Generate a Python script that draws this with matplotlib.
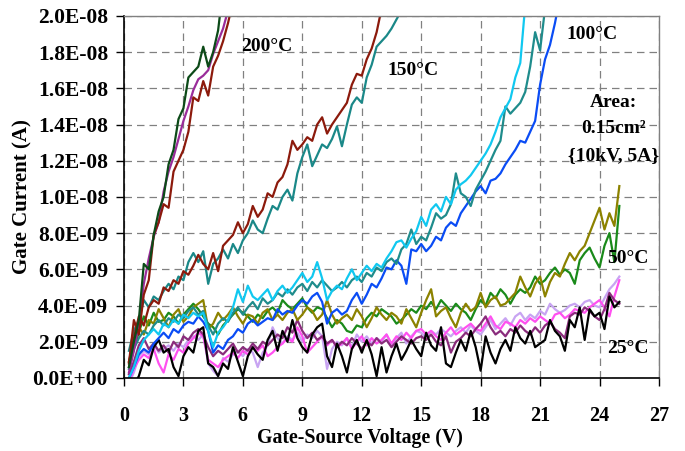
import numpy as np
import matplotlib
matplotlib.use("Agg")
import matplotlib.pyplot as plt
from matplotlib.ticker import FuncFormatter

plt.rcParams['font.family'] = ['Liberation Serif', 'DejaVu Serif']
plt.rcParams['font.weight'] = 'bold'

# gate current readings in nA, sampled every 0.25 V starting at 0.25 V
step = 0.25

# 200 C
g200 = [0.6, 2.0, 3.2, 6.3, 6.0, 7.9, 9.2, 10.0, 11.8, 12.6, 14.3, 14.9, 16.6, 16.9, 17.2,
        18.3, 17.2, 18.0, 19.2, 21.5]
p200 = [0.3, 1.5, 3.0, 5.2, 6.6, 7.8, 8.6, 10.3, 11.4, 12.2, 13.2, 14.2, 15.0, 15.9, 16.5,
        16.7, 17.0, 17.9, 18.6, 19.3, 20.3]
r200 = [0.8, 3.2, 2.4, 4.6, 5.4, 7.9, 8.6, 9.6, 9.4, 11.4, 12.0, 12.6, 13.6, 15.5, 15.3,
        16.4, 15.6, 17.2, 17.8, 18.6, 19.6, 20.8]

# 150 C
r150 = [0.9, 2.2, 3.4, 2.9, 3.9, 4.3, 4.1, 5.0, 4.8, 5.4, 5.2, 5.9, 5.7, 6.2, 6.8, 6.3,
        6.0, 6.9, 5.9, 7.3, 7.6, 7.9, 8.6, 8.0, 8.5, 9.5, 8.9, 9.3, 10.2, 10.0, 10.8, 11.1,
        11.8, 13.1, 12.6, 12.9, 13.3, 13.1, 14.0, 14.4, 13.5, 14.0, 14.4, 14.8, 15.2, 16.2,
        16.8, 16.7, 17.6, 18.2, 19.1, 20.4]
t150 = [1.5, 2.6, 3.2, 4.3, 3.9, 4.5, 4.3, 4.8, 5.2, 4.9, 5.6, 5.4, 6.4, 6.9, 6.4, 7.0,
        5.2, 6.3, 6.6, 7.1, 6.6, 7.4, 6.9, 7.6, 8.0, 8.7, 8.2, 8.0, 8.8, 9.5, 9.3, 10.0,
        10.4, 9.8, 11.3, 12.2, 12.9, 11.7, 12.3, 12.9, 12.7, 13.2, 13.9, 12.8, 14.0, 15.1,
        15.5, 15.2, 16.6, 17.3, 18.3, 18.6, 18.9, 19.3, 19.8, 20.3]

# 100 C
c100 = [0.0, 0.6, 1.5, 2.1, 2.4, 2.7, 2.4, 3.0, 2.8, 3.2, 3.0, 3.5, 3.3, 3.6, 3.4, 3.6,
        2.6, 1.7, 2.5, 2.8, 3.2, 3.9, 4.9, 4.2, 5.1, 4.5, 4.3, 4.6, 4.9, 4.3, 4.8, 5.1,
        4.7, 5.0, 5.4, 5.8, 5.3, 5.6, 6.4, 5.5, 4.3, 4.8, 5.1, 4.9, 5.5, 6.0, 5.4, 5.8,
        6.2, 5.9, 6.3, 6.1, 6.6, 7.0, 7.5, 7.6, 7.2, 7.7, 8.1, 8.9, 8.4, 9.3, 9.6, 9.2,
        10.0, 9.6, 10.4, 10.7, 10.9, 11.2, 11.6, 12.0, 12.4, 12.9, 13.6, 14.4, 14.9, 15.4,
        16.6, 17.4, 20.6]
t100 = [0.5, 1.6, 2.2, 2.6, 2.4, 2.9, 3.2, 2.9, 3.3, 3.1, 3.5, 3.3, 3.7, 3.9, 3.5, 3.7,
        2.9, 2.4, 3.0, 3.3, 3.1, 3.6, 3.9, 3.5, 3.9, 4.2, 3.8, 4.4, 4.1, 4.3, 4.7, 4.5,
        4.9, 4.6, 5.0, 5.2, 4.8, 5.3, 5.0, 5.4, 5.1, 4.8, 5.0, 5.3, 5.0, 5.4, 5.6, 5.3,
        5.8, 5.6, 6.1, 5.9, 6.4, 6.6, 6.3, 7.1, 7.4, 8.2, 7.4, 7.8, 7.6, 8.3, 9.1, 8.8,
        9.0, 9.6, 11.3, 10.2, 10.0, 9.5, 10.4, 10.9, 11.4, 12.0, 12.6, 13.1, 15.0, 14.6,
        14.9, 15.2, 15.8, 17.2, 19.1, 18.1, 20.4]
b100 = [0.0, 0.6, 1.3, 1.6, 1.4, 1.9, 2.2, 2.5, 2.2, 2.7, 2.5, 2.9, 3.1, 3.0, 3.4, 3.1,
        2.6, 1.4, 1.8, 1.6, 2.1, 2.3, 2.7, 2.5, 3.0, 3.2, 2.9, 3.1, 3.3, 3.2, 3.8, 3.5,
        3.7, 3.6, 4.0, 4.3, 4.1, 4.5, 4.7, 4.2, 3.0, 3.6, 3.8, 3.5, 3.7, 4.3, 4.7, 4.1,
        4.6, 5.2, 5.0, 5.5, 6.1, 6.0, 6.5, 6.2, 5.2, 7.1, 7.0, 7.4, 7.0, 7.3, 7.8, 7.6,
        8.3, 8.6, 8.4, 9.1, 9.5, 9.9, 10.3, 10.6, 10.2, 10.9, 11.0, 11.3, 11.8, 12.2, 12.6,
        13.1, 13.0, 13.6, 14.2, 16.2, 17.6, 18.4, 19.6, 21.0]

# 50 C
o50 = [0.9, 1.8, 2.8, 2.4, 3.2, 3.0, 3.8, 3.3, 2.8, 3.5, 3.8, 3.1, 3.4, 3.9, 4.1, 4.3,
       2.7, 3.0, 3.6, 3.2, 3.5, 3.9, 3.4, 3.0, 3.5, 3.4, 3.0, 3.6, 3.8, 3.2, 3.5, 3.2,
       3.6, 3.8, 3.2, 3.5, 3.9, 3.7, 3.2, 3.5, 4.3, 3.5, 3.0, 3.3, 3.5, 3.2, 3.8, 3.4,
       2.8, 3.3, 3.9, 3.5, 3.2, 3.6, 3.4, 3.0, 3.8, 3.3, 2.8, 3.6, 4.3, 4.9, 3.4, 3.7,
       3.9, 3.3, 2.8, 3.6, 4.1, 3.7, 3.9, 4.7, 3.9, 4.3, 4.5, 4.0, 4.1, 4.4, 4.7, 5.6,
       5.0, 4.5, 5.2, 5.6, 4.5, 5.3, 5.8, 5.6, 6.3, 6.9, 6.5, 7.0, 7.3, 8.0, 8.7, 9.4,
       8.2, 9.1, 8.4, 10.6]
gr50 = [0.6, 1.7, 2.5, 3.4, 2.9, 3.6, 3.1, 3.2, 3.6, 3.4, 3.0, 3.5, 3.8, 4.1, 3.8, 3.4,
        3.0, 2.8, 2.4, 2.9, 3.2, 3.5, 3.8, 3.6, 3.4, 3.1, 3.5, 3.3, 3.7, 3.9, 3.6, 4.3,
        4.0, 3.8, 4.1, 4.4, 3.9, 3.6, 3.9, 3.8, 3.3, 2.8, 3.2, 3.0, 2.6, 2.5, 2.9, 2.8,
        3.3, 3.6, 3.4, 3.8, 3.6, 3.4, 3.0, 3.2, 3.5, 3.8, 3.6, 4.0, 3.8, 4.2, 3.8, 4.3,
        4.0, 3.7, 4.1, 3.8, 3.6, 3.2, 3.8, 4.3, 4.0, 4.7, 4.4, 4.9, 4.6, 4.1, 4.6, 4.9,
        4.7, 5.0, 5.6, 5.2, 5.4, 5.8, 6.1, 5.7, 6.0, 5.8, 5.2, 6.5, 6.9, 7.2, 6.6, 6.1,
        7.3, 8.0, 6.4, 9.5]

# 25 C
k25 = [np.nan, -0.4, 0.1, 1.0, 0.7, 1.7, 2.1, 1.4, 1.6, 0.6, 0.1, 1.2, 1.7, 1.4, 2.6, 2.8,
       0.8, 0.6, 0.1, 0.8, 0.5, 1.7, 0.9, 0.1, 1.2, 1.7, 1.3, 1.0, 2.1, 2.6, 1.5, 2.6,
       2.0, 3.2, 2.2, 1.7, 1.4, 2.4, 2.8, 3.0, 1.2, 0.6, 1.9, 1.2, 0.3, 1.6, 2.1, 1.4,
       2.1, 1.3, 0.1, 1.7, 0.3, 1.2, 1.9, 1.0, 1.5, 2.1, 1.6, 1.2, 2.5, 1.8, 1.5, 2.8,
       0.8, 0.6, 1.4, 2.1, 1.5, 2.6, 1.7, 0.4, 2.3, 1.4, 0.8, 1.6, 2.1, 1.5, 2.8, 2.2,
       1.9, 2.6, 1.7, 1.9, 2.1, 3.2, 2.6, 2.3, 1.5, 3.2, 2.8, 3.9, 2.1, 3.8, 3.4, 3.6,
       2.7, 4.5, 3.9, 4.2]
pk25 = [-0.2, 0.5, 1.0, 1.3, 1.1, 1.6, 0.8, 0.3, 1.3, 1.0, 1.6, 1.4, 1.9, 2.2, 2.5, 2.3,
        1.0, 0.8, 0.6, 1.0, 1.2, 1.4, 1.1, 1.5, 1.3, 1.7, 1.5, 1.8, 1.2, 1.4, 1.7, 1.9,
        2.2, 2.0, 2.8, 2.3, 1.4, 1.7, 2.0, 2.3, 1.8, 2.1, 1.7, 1.9, 2.2, 1.6, 2.0, 2.3,
        1.8, 2.2, 1.9, 2.1, 2.4, 1.9, 2.3, 2.1, 2.5, 2.2, 2.6, 2.7, 2.4, 2.6, 2.3, 2.1,
        2.5, 2.8, 2.4, 2.6, 2.8, 3.0, 2.7, 2.6, 3.0, 3.4, 2.9, 2.7, 3.1, 3.0, 2.8, 3.2,
        3.0, 3.3, 3.1, 3.4, 3.2, 3.0, 3.5, 3.6, 3.3, 3.5, 3.8, 3.7, 3.6, 3.9, 4.1, 4.3,
        3.9, 3.4, 4.5, 5.4]
lv25 = [-0.3, 0.3, 1.2, 1.5, 1.3, 1.9, 1.4, 1.6, 1.8, 1.5, 1.9, 1.7, 2.1, 2.3, 2.1, 2.4,
        0.8, 0.4, 0.1, 1.1, 0.9, 1.3, 1.5, 1.2, 1.6, 1.4, 0.6, 1.4, 1.8, 2.8, 2.2, 1.9,
        2.3, 2.1, 2.5, 2.0, 2.4, 2.2, 2.6, 2.3, 0.5, 1.6, 2.0, 1.8, 2.2, 1.7, 2.4, 2.0,
        2.3, 1.9, 2.2, 2.0, 2.4, 1.8, 2.2, 2.5, 1.9, 2.3, 2.6, 2.5, 2.2, 2.6, 2.4, 2.7,
        2.5, 2.3, 2.6, 2.8, 2.5, 2.9, 2.6, 2.4, 2.8, 3.2, 2.7, 3.0, 3.3, 2.9, 3.4, 3.6,
        3.2, 3.5, 3.3, 3.7, 3.5, 4.1, 3.8, 3.6, 3.75, 4.0, 4.1, 3.9, 4.2, 4.3, 4.0, 3.9,
        4.4, 4.9, 5.2, 5.6]
dp25 = [0.2, 0.9, 1.8, 2.2, 1.6, 1.9, 1.5, 1.8, 1.4, 2.0, 1.7, 2.3, 2.1, 2.5, 2.7, 2.4,
        1.7, 1.2, 1.5, 1.3, 1.6, 1.9, 1.4, 1.7, 1.5, 1.9, 1.6, 2.0, 1.8, 2.1, 2.4, 2.2,
        2.8, 2.5, 3.2, 2.6, 2.2, 2.5, 2.1, 2.3, 1.9, 2.1, 1.7, 2.0, 1.8, 2.2, 1.9, 1.6,
        2.0, 1.8, 2.2, 1.9, 2.1, 1.7, 2.0, 2.3, 2.1, 1.9, 2.2, 2.3, 2.1, 2.4, 2.0, 1.8,
        2.3, 1.4, 2.0, 2.2, 2.5, 2.3, 2.7, 3.0, 3.4, 2.8, 2.4, 2.6, 2.3, 2.7, 2.5, 2.9,
        2.6, 2.4, 2.8, 2.5, 2.9, 3.1, 2.7, 2.5, 2.2, 3.4, 3.6, 3.5, 3.9, 3.7, 3.4, 3.2,
        3.8, 4.7, 4.3, 4.1]

series = [
    (lv25, '#c8a4f2'), (pk25, '#ff50f0'), (dp25, '#8a2c7c'), (k25, '#000000'),
    (gr50, '#1a8a1a'), (o50, '#8c8200'),
    (b100, '#0a4cf5'), (t100, '#1f8c8c'), (c100, '#10c8f0'),
    (t150, '#1a8888'), (r150, '#8c1a0c'),
    (p200, '#9a2c9a'), (r200, '#8c1a0c'), (g200, '#0c4a18'),
]

fig = plt.figure(figsize=(6.85, 4.51), dpi=100)
ax = fig.add_axes([0.181, 0.162, 0.781, 0.8027])

for vals, col in series:
    volts = step * np.arange(1, len(vals) + 1)
    ax.plot(volts, np.array(vals) * 1e-9, color=col, lw=1.6)

ax.set_xlim(0, 27)
ax.set_ylim(0, 2e-8)
ax.set_xticks(np.arange(0, 28, 3))
ax.set_yticks(np.arange(0, 2.01e-8, 2e-9))
ax.yaxis.set_major_formatter(FuncFormatter(lambda v, p: f"{v:.1E}"))
ax.tick_params(axis='both', direction='out', length=5.5, width=1)
ax.tick_params(axis='x', pad=15, labelsize=14.5)
ax.tick_params(axis='y', pad=6, labelsize=15.5)
for lab in ax.get_xticklabels() + ax.get_yticklabels():
    lab.set_fontweight('bold')

ax.grid(True, color='#808080', ls=(0, (6, 4)), lw=0.9)
ax.set_axisbelow(True)
for s in ['top', 'right']:
    ax.spines[s].set_color('#808080')
    ax.spines[s].set_linewidth(1.0)
for s in ['left', 'bottom']:
    ax.spines[s].set_color('black')
    ax.spines[s].set_linewidth(1.2)

fig.text(360 / 685, 1 - 438 / 451, 'Gate-Source Voltage (V)', ha='center', va='center',
         fontsize=14.3, fontweight='bold')
fig.text(22 / 685, 1 - 197 / 451, 'Gate Current (A)', ha='center', va='center',
         rotation=90, fontsize=15, fontweight='bold')

ann = dict(fontsize=14, fontweight='bold', va='center')
ax.text(5.9, 1.83e-8, '200°C', ha='left', **ann)
ax.text(13.3, 1.7e-8, '150°C', ha='left', **ann)
ax.text(22.35, 1.9e-8, '100°C', ha='left', **ann)
ax.text(24.7, 1.52e-8, 'Area:', ha='center', **ann)
ax.text(24.7, 1.38e-8, '0.15cm²', ha='center', **ann)
ax.text(24.7, 1.23e-8, '{10kV, 5A}', ha='center', **ann)
ax.text(24.4, 6.6e-9, '50°C', ha='left', **ann)
ax.text(24.4, 1.65e-9, '25°C', ha='left', **ann)

fig.savefig('out.png', dpi=100)
